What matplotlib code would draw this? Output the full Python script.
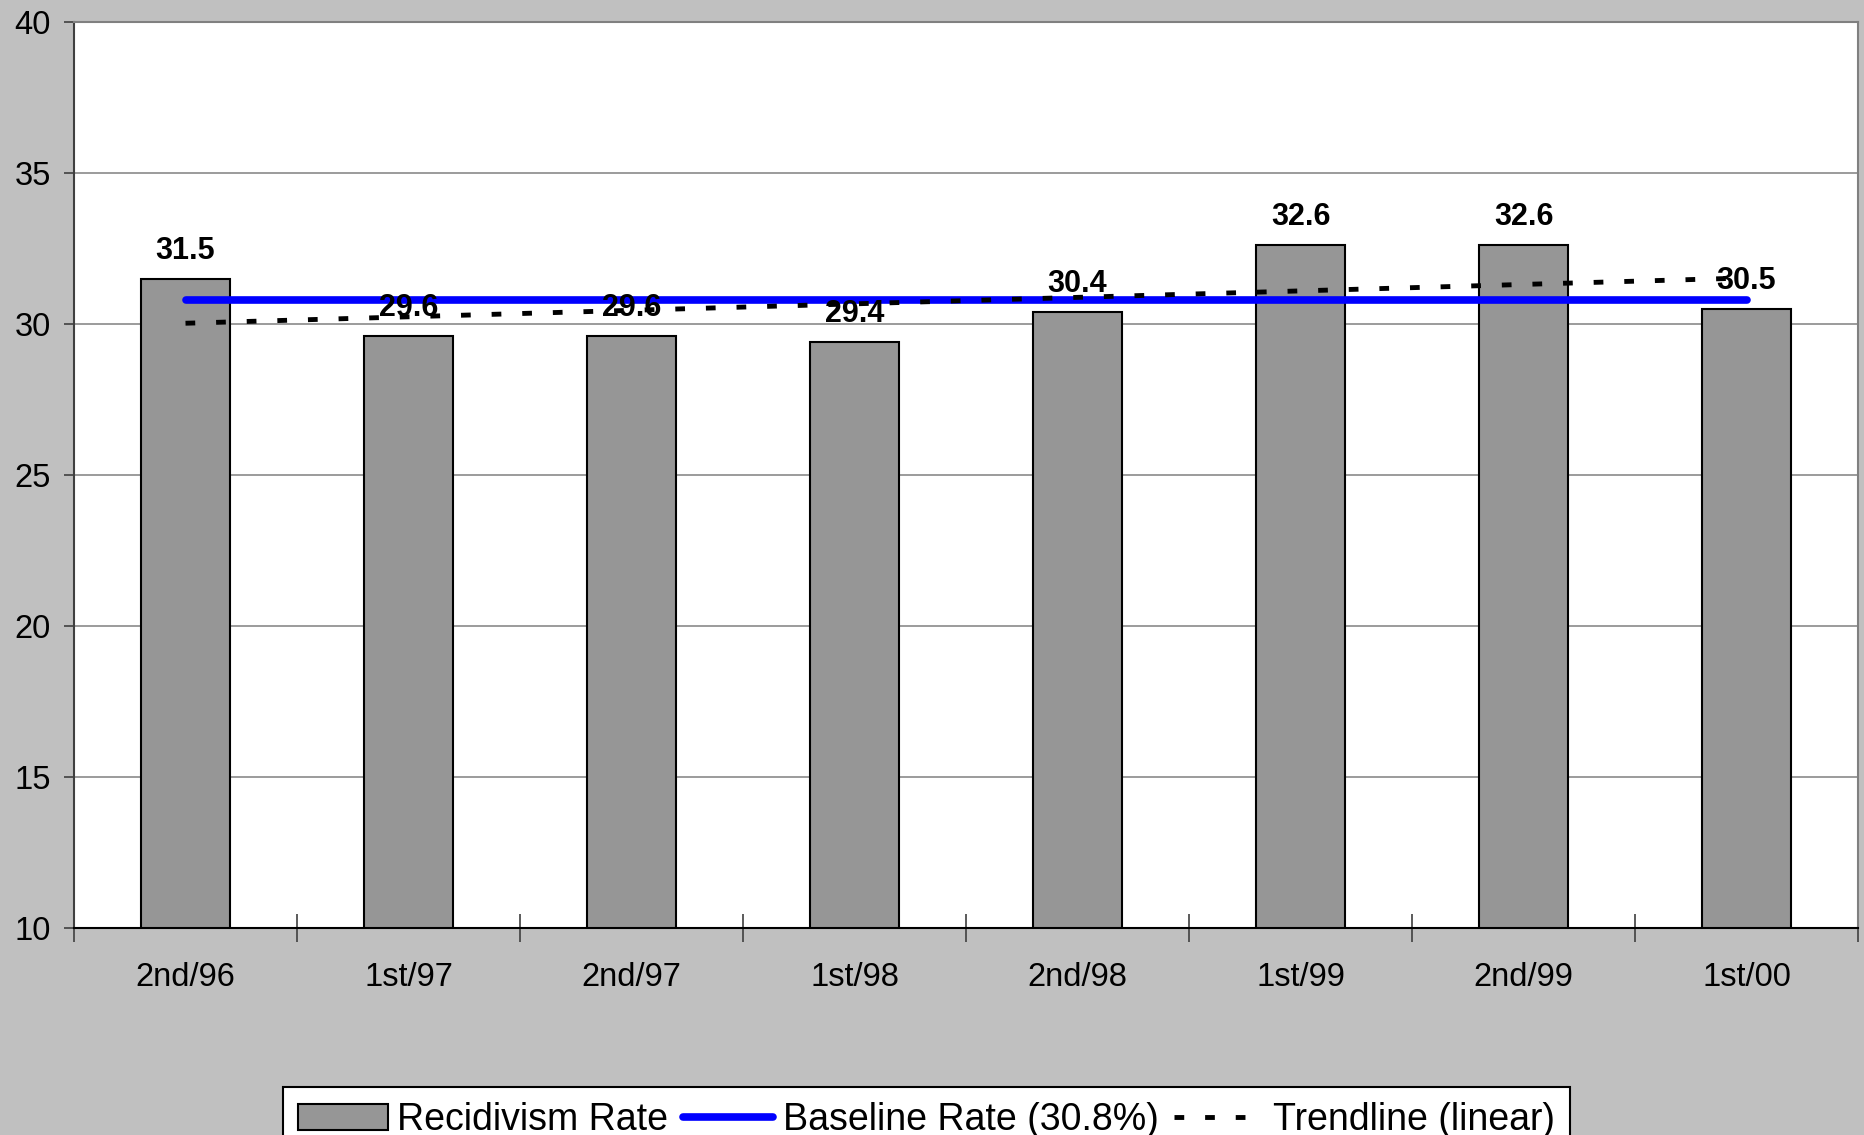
import numpy as np
import matplotlib
matplotlib.use("Agg")
import matplotlib.pyplot as plt

plt.rcParams['font.family'] = ['Liberation Sans', 'DejaVu Sans']

periods = ['2nd/96', '1st/97', '2nd/97', '1st/98', '2nd/98', '1st/99', '2nd/99', '1st/00']
rates = [31.5, 29.6, 29.6, 29.4, 30.4, 32.6, 32.6, 30.5]
baseline = 30.8
yticks = [10, 15, 20, 25, 30, 35, 40]

x = np.arange(len(periods))
slope, icpt = np.polyfit(x, rates, 1)
trend = slope * x + icpt

fig = plt.figure(figsize=(18.64, 11.35), dpi=100, facecolor='#c0c0c0')
ax = fig.add_axes([0.0397, 0.1824, 0.9571, 0.7982])
ax.set_facecolor('white')

bars = ax.bar(x, rates, width=0.4, bottom=0, color='#969696', edgecolor='black',
              linewidth=1.5, zorder=2, label='Recidivism Rate')
base_line, = ax.plot(x, [baseline] * len(x), color='#0000ff', linewidth=5.5,
                     solid_capstyle='round', zorder=3, label='Baseline Rate (30.8%)')
trend_line, = ax.plot(x, trend, color='black', linewidth=3.5, dashes=(2, 4.3),
                      dash_capstyle='butt', zorder=3, label='Trendline (linear)')

for xi, r in zip(x, rates):
    ax.annotate(f'{r:.1f}', (xi, r), xytext=(0, 9.5), textcoords='offset points',
                ha='center', va='bottom', fontsize=22, fontweight='bold', zorder=5)

ax.set_xlim(-0.5, len(periods) - 0.5)
ax.set_ylim(10, 40)
ax.set_yticks(yticks)
ax.set_yticklabels([str(t) for t in yticks])
ax.yaxis.grid(True, color='#808080', linewidth=1.1, zorder=0)
ax.set_axisbelow(True)

ax.set_xticks(np.arange(-0.5, len(periods), 1.0))
ax.set_xticklabels([])
ax.set_xticks(x, minor=True)
ax.set_xticklabels(periods, minor=True)
ax.tick_params(axis='x', which='major', direction='inout', length=20, width=1.2, color='#404040')
ax.tick_params(axis='x', which='minor', length=0, pad=24.5, labelsize=23.5)
ax.tick_params(axis='y', direction='out', length=7.5, width=1.2, color='#404040', pad=9,
               labelsize=23.5)

for side in ['top', 'right']:
    ax.spines[side].set_color('#808080')
    ax.spines[side].set_linewidth(1.5)
ax.spines['left'].set_color('#404040')
ax.spines['left'].set_linewidth(1.5)
ax.spines['bottom'].set_color('black')
ax.spines['bottom'].set_linewidth(1.5)

leg = fig.legend(handles=[bars, base_line, trend_line], loc='upper center',
                 bbox_to_anchor=(0.497, 0.042), ncol=3, fontsize=27,
                 frameon=True, fancybox=False, edgecolor='black', framealpha=1,
                 handlelength=2.4, handletextpad=0.25, columnspacing=0.4, borderpad=0.4,
                 borderaxespad=0)
leg.get_frame().set_linewidth(1.5)

fig.savefig('out.png', dpi=100, facecolor=fig.get_facecolor())
